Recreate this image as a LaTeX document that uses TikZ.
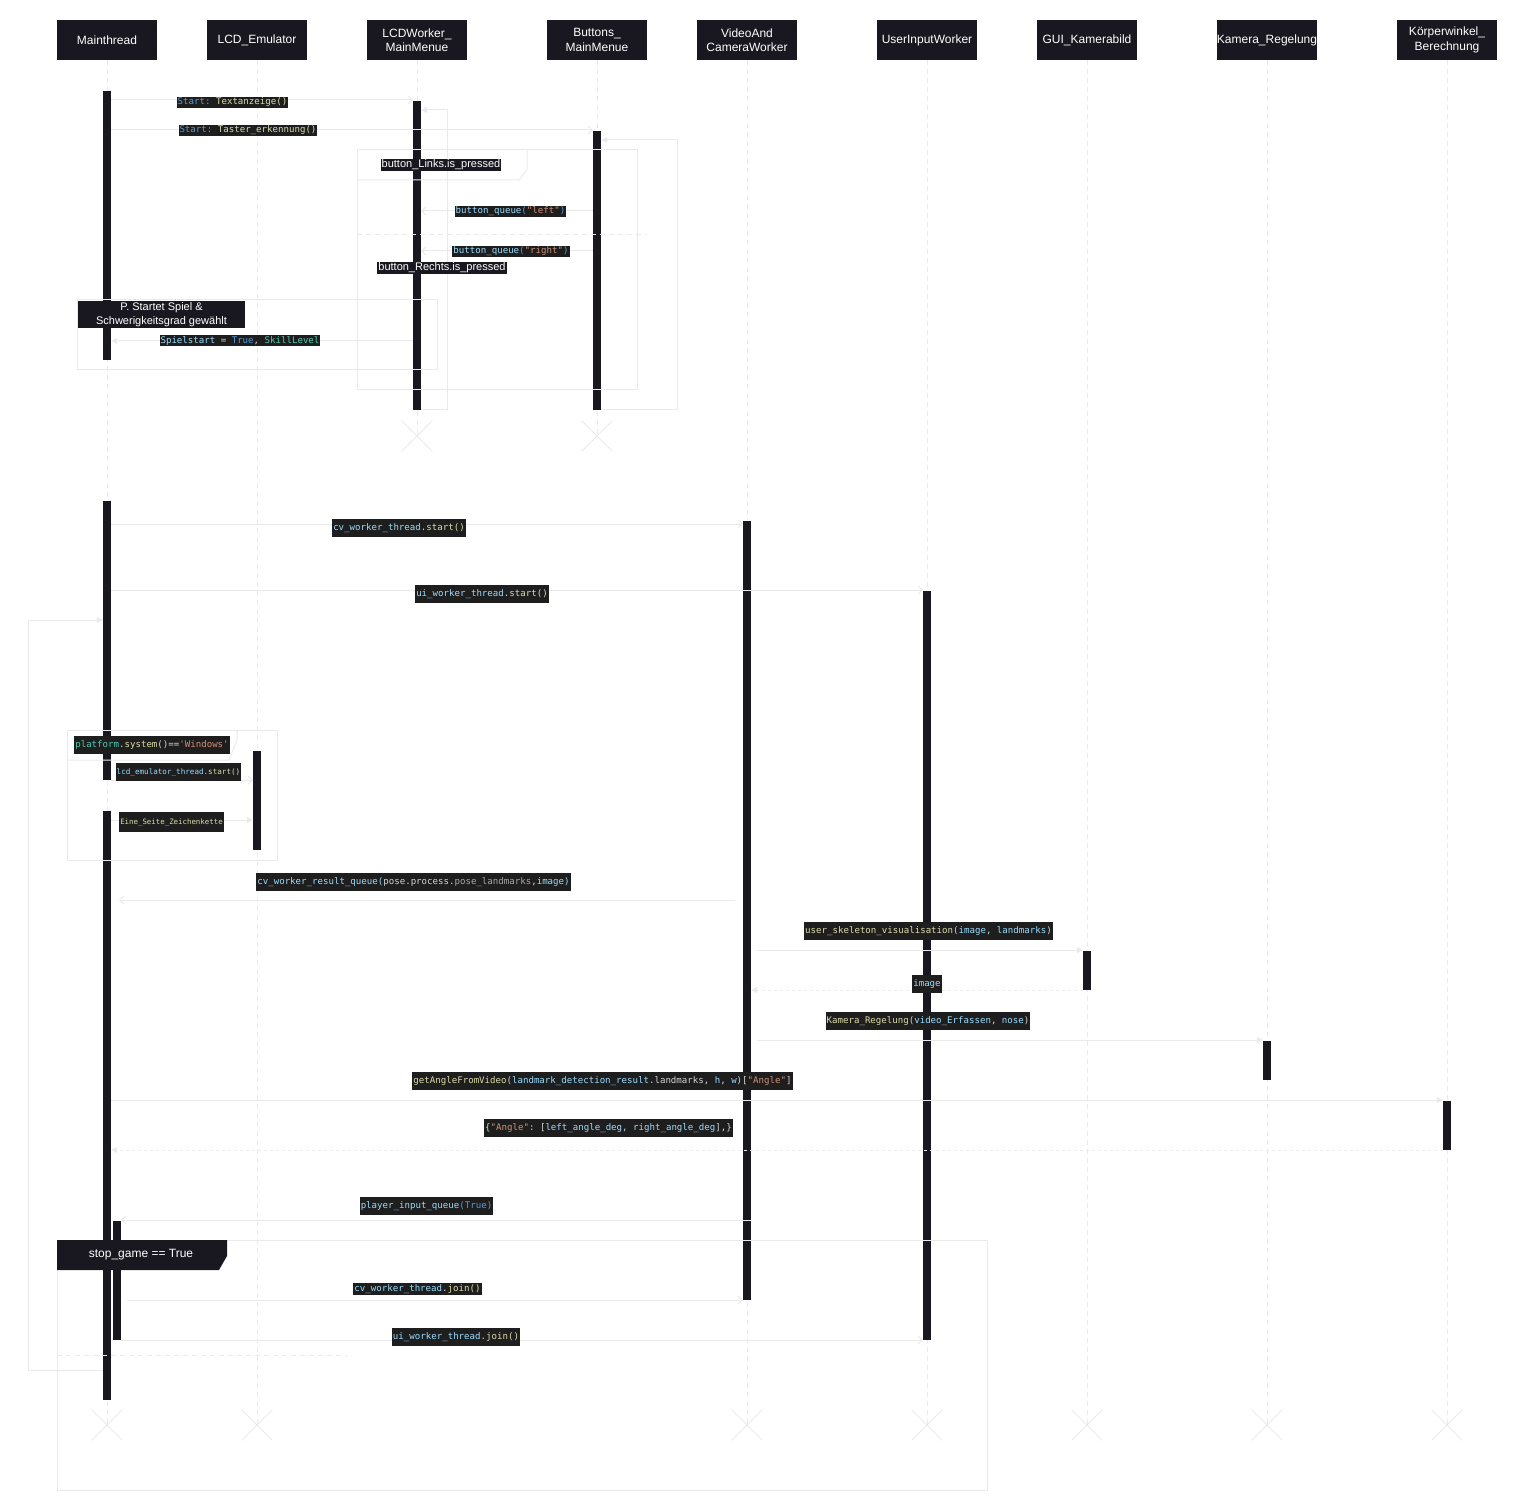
\documentclass[tikz,border=0pt]{standalone}
\usepackage{fontspec}
\setmainfont{Liberation Sans}
\setmonofont{DejaVu Sans Mono}
\usetikzlibrary{arrows.meta,shapes.misc}

\definecolor{dunkel}{HTML}{19171F}
\definecolor{hell}{HTML}{EAEAEA}
\definecolor{codebg}{HTML}{1E1E1E}
\definecolor{ckwc}{HTML}{569CD6}
\definecolor{cfnc}{HTML}{DCDCAA}
\definecolor{cvarc}{HTML}{9CDCFE}
\definecolor{cstrc}{HTML}{CE9178}
\definecolor{cclsc}{HTML}{4EC9B0}
\definecolor{cplc}{HTML}{D4D4D4}
\definecolor{cgrc}{HTML}{A8A8A8}

\newcommand{\ckw}[1]{\textcolor{ckwc}{#1}}
\newcommand{\cfn}[1]{\textcolor{cfnc}{#1}}
\newcommand{\cvar}[1]{\textcolor{cvarc}{#1}}
\newcommand{\cstr}[1]{\textcolor{cstrc}{#1}}
\newcommand{\ccls}[1]{\textcolor{cclsc}{#1}}
\newcommand{\cgr}[1]{\textcolor{cgrc}{#1}}
\newcommand{\codefont}{\ttfamily\fontsize{9.1}{11}\selectfont}

\tikzset{
  kopf/.style={fill=dunkel, text=white, minimum width=100pt, minimum height=40pt,
    inner sep=0pt, align=center, font=\fontsize{12}{14.5}\selectfont},
  balken/.style={fill=dunkel, inner sep=0pt, minimum width=8pt},
  leben/.style={draw=hell, dash pattern=on 5pt off 4pt, line width=0.8pt},
  msg/.style={draw=hell, line width=1pt, -{Straight Barb[length=4pt,width=8pt]}},
  msgvoll/.style={draw=hell, line width=1pt, -{Triangle[length=6pt,width=6pt]}},
  antwort/.style={msgvoll, dash pattern=on 3pt off 3pt},
  rahmen/.style={draw=hell, line width=1pt},
  code/.style={fill=codebg, text=cplc, inner xsep=1pt, inner ysep=4.5pt,
    text height=7pt, text depth=2pt, font=\codefont},
  codeflach/.style={code, inner ysep=1pt},
  wache/.style={fill=dunkel, text=white, inner xsep=1pt, inner ysep=1pt,
    align=center, font=\fontsize{11}{13.5}\selectfont},
  ende/.style={draw=hell, cross out, minimum size=30pt, inner sep=0pt, line width=0.8pt},
}

\begin{document}
\begin{tikzpicture}[x=1pt, y=-1pt]
  \useasboundingbox (0,0) rectangle (1518,1511);

  % Teilnehmer
  \node[kopf] (main) at (107,40) {Mainthread};
  \node[kopf] (emu) at (257,40) {LCD\_Emulator};
  \node[kopf] (lcdwork) at (417,40) {LCDWorker\_\\MainMenue};
  \node[kopf] (buttons) at (597,40) {Buttons\_\\MainMenue};
  \node[kopf] (video) at (747,40) {VideoAnd\\CameraWorker};
  \node[kopf] (uiw) at (927,40) {UserInputWorker};
  \node[kopf] (gui) at (1087,40) {GUI\_Kamerabild};
  \node[kopf] (kamera) at (1267,40) {Kamera\_Regelung};
  \node[kopf] (koerper) at (1447,40) {Körperwinkel\_\\Berechnung};

  % Enden
  \node[ende] (lcdworkX) at (417,436) {};
  \node[ende] (buttonsX) at (597,436) {};
  \node[ende] (mainX) at (107,1425) {};
  \node[ende] (emuX) at (257,1425) {};
  \node[ende] (videoX) at (747,1425) {};
  \node[ende] (uiwX) at (927,1425) {};
  \node[ende] (guiX) at (1087,1425) {};
  \node[ende] (kameraX) at (1267,1425) {};
  \node[ende] (koerperX) at (1447,1425) {};

  % Lebenslinien
  \draw[leben] (main.south) -- (mainX.center);
  \draw[leben] (emu.south) -- (emuX.center);
  \draw[leben] (lcdwork.south) -- (lcdworkX.center);
  \draw[leben] (buttons.south) -- (buttonsX.center);
  \draw[leben] (video.south) -- (videoX.center);
  \draw[leben] (uiw.south) -- (uiwX.center);
  \draw[leben] (gui.south) -- (guiX.center);
  \draw[leben] (kamera.south) -- (kameraX.center);
  \draw[leben] (koerper.south) -- (koerperX.center);

  % Aktivierungen
  \node[balken, minimum height=269pt] (mainA) at (107,225.5) {};
  \node[balken, minimum height=279pt] (mainB) at (107,640.5) {};
  \node[balken, minimum height=589pt] (mainC) at (107,1105.5) {};
  \node[balken, minimum height=119pt] (mainD) at (117,1280.5) {};
  \node[balken, minimum height=309pt] (lcdworkA) at (417,255.5) {};
  \node[balken, minimum height=279pt] (buttonsA) at (597,270.5) {};
  \node[balken, minimum height=99pt] (emuA) at (257,800.5) {};
  \node[balken, minimum height=779pt] (videoA) at (747,910.5) {};
  \node[balken, minimum height=749pt] (uiwA) at (927,965.5) {};
  \node[balken, minimum height=39pt] (guiA) at (1087,970.5) {};
  \node[balken, minimum height=39pt] (kameraA) at (1267,1060.5) {};
  \node[balken, minimum height=49pt] (koerperA) at (1447,1125.5) {};

  % Hauptmenue
  \draw[msg] (mainA.east |- 0,100) -- (lcdworkA.west |- 0,100);
  \draw[msgvoll] (lcdworkA.east |- 0,410) -| (447,110) -- (lcdworkA.east |- 0,110);
  \draw[msg] (mainA.east |- 0,130) -- (buttonsA.west |- 0,130);
  \draw[msgvoll] (buttonsA.east |- 0,410) -| (677,140) -- (buttonsA.east |- 0,140);
  \draw[rahmen] (357,150) rectangle (637,390);
  \draw[rahmen] (357,180) -- (519,180) -- (527,170) -- (527,150);
  \draw[rahmen, dash pattern=on 5pt off 4pt] (357,235) -- (647,235);
  \draw[msg] (buttonsA.west |- 0,211) -- (lcdworkA.east |- 0,211);
  \draw[msg] (buttonsA.west |- 0,251) -- (lcdworkA.east |- 0,251);
  \draw[rahmen] (77,300) rectangle (437,370);
  \draw[msgvoll] (lcdworkA.west |- 0,341) -- (mainA.east |- 0,341);

  % Spiel
  \draw[msg] (mainB.east |- 0,524) -- (videoA.west |- 0,524);
  \draw[msg] (mainB.east |- 0,590) -- (uiwA.west |- 0,590);
  \draw[msgvoll] (mainC.west |- 0,1370) -| (28,620) -- (mainB.west |- 0,620);
  \draw[rahmen] (67,730) rectangle (277,860);
  \draw[rahmen] (67,760) -- (229,760) -- (237,740) -- (237,730);
  \draw[msg] (mainB.south east) -- (emuA.west |- mainB.south east);
  \draw[msgvoll] (mainC.east |- 0,820) -- (emuA.west |- 0,820);
  \draw[msg, shorten <=8pt, shorten >=8pt] (videoA.west |- 0,900) -- (mainC.east |- 0,900);
  \draw[msgvoll, shorten <=6pt] (videoA.east |- 0,950) -- (guiA.west |- 0,950);
  \draw[antwort] (guiA.west |- 0,990) -- (videoA.east |- 0,990);
  \draw[msgvoll, shorten <=6pt] (videoA.east |- 0,1040) -- (kameraA.west |- 0,1040);
  \draw[msgvoll] (mainC.east |- 0,1100) -- (koerperA.west |- 0,1100);
  \draw[antwort] (koerperA.west |- 0,1150) -- (mainC.east |- 0,1150);
  \draw[msg] (videoA.east |- 0,1220) -- (mainD.east |- 0,1220);
  \draw[rahmen] (57,1240) rectangle (987,1490);
  \fill[dunkel] (57,1240) -- (227,1240) -- (227,1256) -- (219,1270) -- (57,1270) -- cycle;
  \draw[msg, shorten <=6pt] (mainD.east |- 0,1300) -- (videoA.west |- 0,1300);
  \draw[msg] (mainD.east |- 0,1340) -- (uiwA.west |- 0,1340);
  \draw[rahmen, dash pattern=on 5pt off 4pt] (57,1355) -- (347,1355);

  % Beschriftungen
  \node[codeflach] (lText) at (232.5,102.5) {\ckw{Start:} \cfn{Textanzeige()}};
  \node[codeflach] (lTaster) at (248,130.5) {\ckw{Start:} \cfn{Taster\_erkennung()}};
  \node[wache] (gLinks) at (441,165) {button\_Links.is\_pressed};
  \node[codeflach] (lLeft) at (510.5,211.5) {\cvar{button\_queue}\ckw{(}\cstr{"left"}\ckw{)}};
  \node[codeflach] (lRight) at (511,251.5) {\cvar{button\_queue}\ckw{(}\cstr{"right"}\ckw{)}};
  \node[wache] (gRechts) at (442,268) {button\_Rechts.is\_pressed};
  \node[wache, minimum width=167pt, minimum height=27pt] (gStart) at (161.5,314.5)
    {P. Startet Spiel \&\\Schwerigkeitsgrad gewählt};
  \node[codeflach] (lSpiel) at (240,341) {\cvar{Spielstart} = \ckw{True}, \ccls{SkillLevel}};
  \node[code] (lCvStart) at (399,528) {\cvar{cv\_worker\_thread}.\cfn{start()}};
  \node[code] (lUiStart) at (482,594) {\cvar{ui\_worker\_thread}.\cfn{start()}};
  \node[code] (gWin) at (152,745) {\ccls{platform}.\cfn{system}()==\cstr{'Windows'}};
  \node[code, font=\ttfamily\fontsize{7.6}{9}\selectfont] (lEmu) at (178.5,771.5)
    {\cvar{lcd\_emulator\_thread}.\cfn{start}()};
  \node[code, inner ysep=5.5pt, font=\ttfamily\fontsize{7.4}{9}\selectfont] (lSeite) at (171.5,822)
    {\cfn{Eine\_Seite\_Zeichenkette}};
  \node[code] (lResult) at (413.5,881.5)
    {\cvar{cv\_worker\_result\_queue(}pose.process.\cgr{pose\_landmarks},\cvar{image)}};
  \node[code] (lSkel) at (928.5,931)
    {\cfn{user\_skeleton\_visualisation}(\cvar{image}, \cvar{landmarks})};
  \node[code] (lImage) at (927,984) {\cvar{image}};
  \node[code] (lKamera) at (928,1021)
    {\cfn{Kamera\_Regelung}(\cvar{video\_Erfassen}, \cvar{nose})};
  \node[code] (lAngle) at (602.5,1081)
    {\cfn{getAngleFromVideo}(\cvar{landmark\_detection\_result}.landmarks, \cvar{h}, \cvar{w})[\cstr{"Angle"}]};
  \node[code] (lAngleRet) at (608.5,1128)
    {\{\cstr{"Angle"}: [\cvar{left\_angle\_deg}, \cvar{right\_angle\_deg}],\}};
  \node[code] (lPlayer) at (426.5,1206) {\cvar{player\_input\_queue}\ckw{(True)}};
  \node[text=white, font=\fontsize{12}{14}\selectfont] (gStop) at (141,1255) {stop\_game == True};
  \node[codeflach, inner ysep=1.5pt] (lCvJoin) at (417.5,1289) {\cvar{cv\_worker\_thread}.\cfn{join()}};
  \node[code] (lUiJoin) at (456,1337) {\cvar{ui\_worker\_thread}.\cfn{join()}};
\end{tikzpicture}
\end{document}
